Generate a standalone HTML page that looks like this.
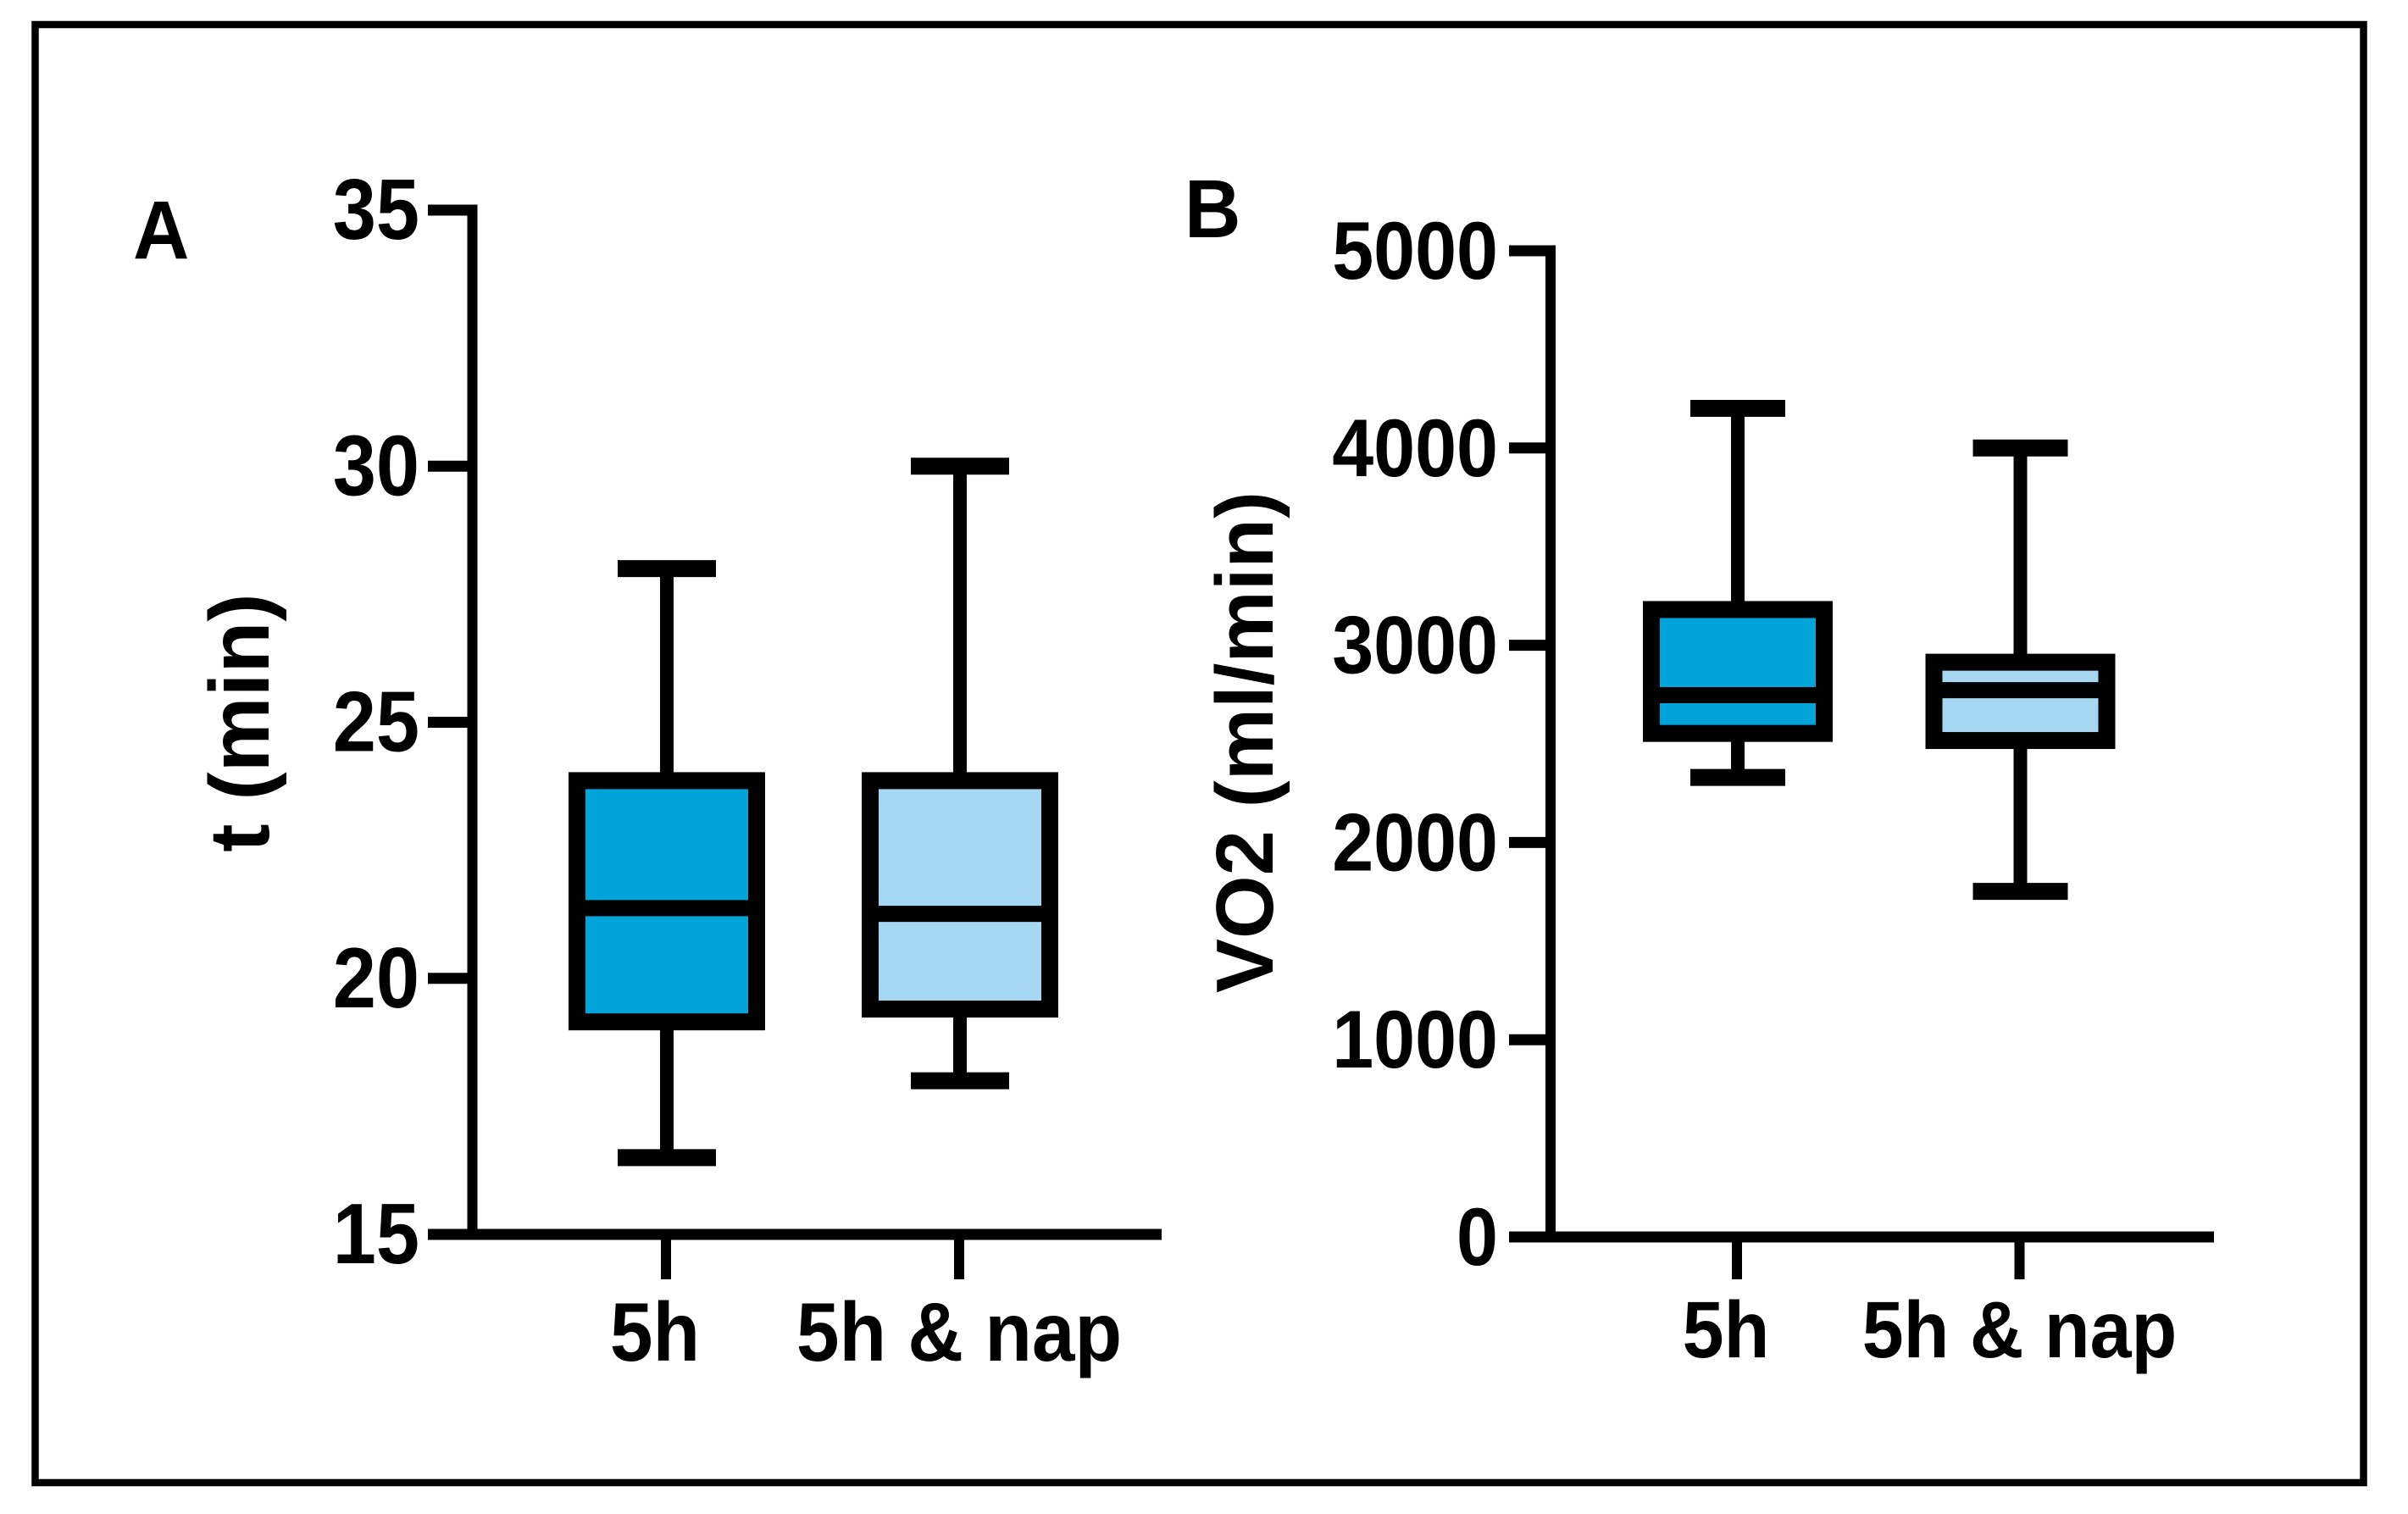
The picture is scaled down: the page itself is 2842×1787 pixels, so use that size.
<!DOCTYPE html>
<html lang="en">
<head>
<meta charset="utf-8">
<title>Box plots: t (min) and VO2 (ml/min)</title>
<style>
html,body{margin:0;padding:0;background:#fff;}
svg{display:block;}
text{font-family:"Liberation Sans",Arial,sans-serif;font-weight:700;fill:#000;}
</style>
</head>
<body>
<svg id="figure" xmlns="http://www.w3.org/2000/svg" width="2842" height="1787" viewBox="0 0 2842 1787">
  <rect x="0" y="0" width="2842" height="1787" fill="#fff"/>
  <rect x="41.5" y="29" width="2748" height="1721" fill="none" stroke="#000" stroke-width="8.5"/>
  <text transform="translate(157 305) scale(1 1.06)" font-size="92">A</text>
  <text transform="translate(1398 280) scale(1 1.06)" font-size="92">B</text>
  <text transform="translate(317 853) rotate(-90)" text-anchor="middle" font-size="100">t (min)</text>
  <text transform="translate(1502 876) rotate(-90)" text-anchor="middle" font-size="96">VO2 (ml/min)</text>
  <g id="panel-a"></g>
  <g id="panel-b"></g>
</svg>
<script>
const categories = ['5h', '5h & nap'];
const boxColors = ['#00a3da', '#a5d7f3'];

const tTickLabels = [15, 20, 25, 30, 35];
const tMin = [16.5, 18.0];
const tQ1 = [19.15, 19.4];
const tMedian = [21.37, 21.26];
const tQ3 = [23.86, 23.86];
const tMax = [28.0, 30.0];

const vo2TickLabels = [0, 1000, 2000, 3000, 4000, 5000];
const vo2Min = [2330, 1752];
const vo2Q1 = [2553, 2517];
const vo2Median = [2747, 2772];
const vo2Q3 = [3181, 2914];
const vo2Max = [4201, 4000];

const NS = 'http://www.w3.org/2000/svg';

function makeLine(parent, x1, y1, x2, y2, width) {
  const el = document.createElementNS(NS, 'line');
  el.setAttribute('x1', x1);
  el.setAttribute('y1', y1);
  el.setAttribute('x2', x2);
  el.setAttribute('y2', y2);
  el.setAttribute('stroke', '#000');
  el.setAttribute('stroke-width', width);
  parent.appendChild(el);
  return el;
}

function makeText(parent, x, y, size, anchor, content, stretch) {
  const el = document.createElementNS(NS, 'text');
  el.setAttribute('transform', 'translate(' + x + ' ' + y + ') scale(1 ' + stretch + ')');
  el.setAttribute('font-size', size);
  el.setAttribute('text-anchor', anchor);
  el.textContent = content;
  parent.appendChild(el);
  return el;
}

function drawPanel(p) {
  const g = document.getElementById(p.id);
  const domainMin = p.ticks[0];
  const domainMax = p.ticks[p.ticks.length - 1];
  const yScale = v => p.y0 + (v - domainMin) * (p.y1 - p.y0) / (domainMax - domainMin);
  const xScale = i => p.x0 + i * p.xStep;

  const yAxis = makeLine(g, p.axisX, yScale(domainMax) - 6.5, p.axisX, p.y0 + 6, 12);
  
  
  const xAxis = makeLine(g, p.tickLeft, p.y0, p.axisRight, p.y0, 13);
  
  

  p.ticks.forEach(v => {
    const tick = makeLine(g, p.tickLeft, yScale(v), p.axisX, yScale(v), 13);
    
    
    const label = makeText(g, p.labelRight, yScale(v) + p.labelDy, p.tickFont, 'end', String(v), 1.1);
    
    
  });

  categories.forEach((name, i) => {
    const cx = xScale(i);
    const slug = i === 0 ? '5h' : '5h-nap';

    const xTick = makeLine(g, cx, p.y0, cx, 1510, 12);
    
    
    const xLabel = makeText(g, cx + p.catDx[i], p.catBaseline, p.catFont, 'middle', name, 1.08);
    
    

    const stem = makeLine(g, cx + 1, yScale(p.max[i]), cx + 1, yScale(p.min[i]), 16);
    
    
    const capTop = makeLine(g, cx + 1 - p.capHalf, yScale(p.max[i]), cx + 1 + p.capHalf, yScale(p.max[i]), 20);
    
    
    const capBottom = makeLine(g, cx + 1 - p.capHalf, yScale(p.min[i]), cx + 1 + p.capHalf, yScale(p.min[i]), 20);
    
    

    const box = document.createElementNS(NS, 'rect');
    box.setAttribute('x', cx + 1 - p.boxHalf);
    box.setAttribute('y', yScale(p.q3[i]));
    box.setAttribute('width', p.boxHalf * 2);
    box.setAttribute('height', yScale(p.q1[i]) - yScale(p.q3[i]));
    box.setAttribute('fill', boxColors[i]);
    box.setAttribute('stroke', '#000');
    box.setAttribute('stroke-width', 20);
    
    
    g.appendChild(box);

    const median = makeLine(g, cx + 1 - p.boxHalf, yScale(p.median[i]), cx + 1 + p.boxHalf, yScale(p.median[i]), 19);
    
    
  });
}

drawPanel({
  id: 'panel-a', ticks: tTickLabels,
  min: tMin, q1: tQ1, median: tMedian, q3: tQ3, max: tMax,
  y0: 1457, y1: 248, axisX: 557.5, tickLeft: 505, axisRight: 1371,
  x0: 786, xStep: 346, boxHalf: 106, capHalf: 58,
  labelRight: 495, labelDy: 34, tickFont: 92,
  catDx: [-13, 0], catBaseline: 1606, catFont: 91
});

drawPanel({
  id: 'panel-b', ticks: vo2TickLabels,
  min: vo2Min, q1: vo2Q1, median: vo2Median, q3: vo2Q3, max: vo2Max,
  y0: 1460, y1: 296, axisX: 1830, tickLeft: 1781, axisRight: 2613,
  x0: 2050, xStep: 333.5, boxHalf: 102, capHalf: 56,
  labelRight: 1768, labelDy: 33, tickFont: 88,
  catDx: [-13, 0], catBaseline: 1602, catFont: 88
});
</script>
</body>
</html>
